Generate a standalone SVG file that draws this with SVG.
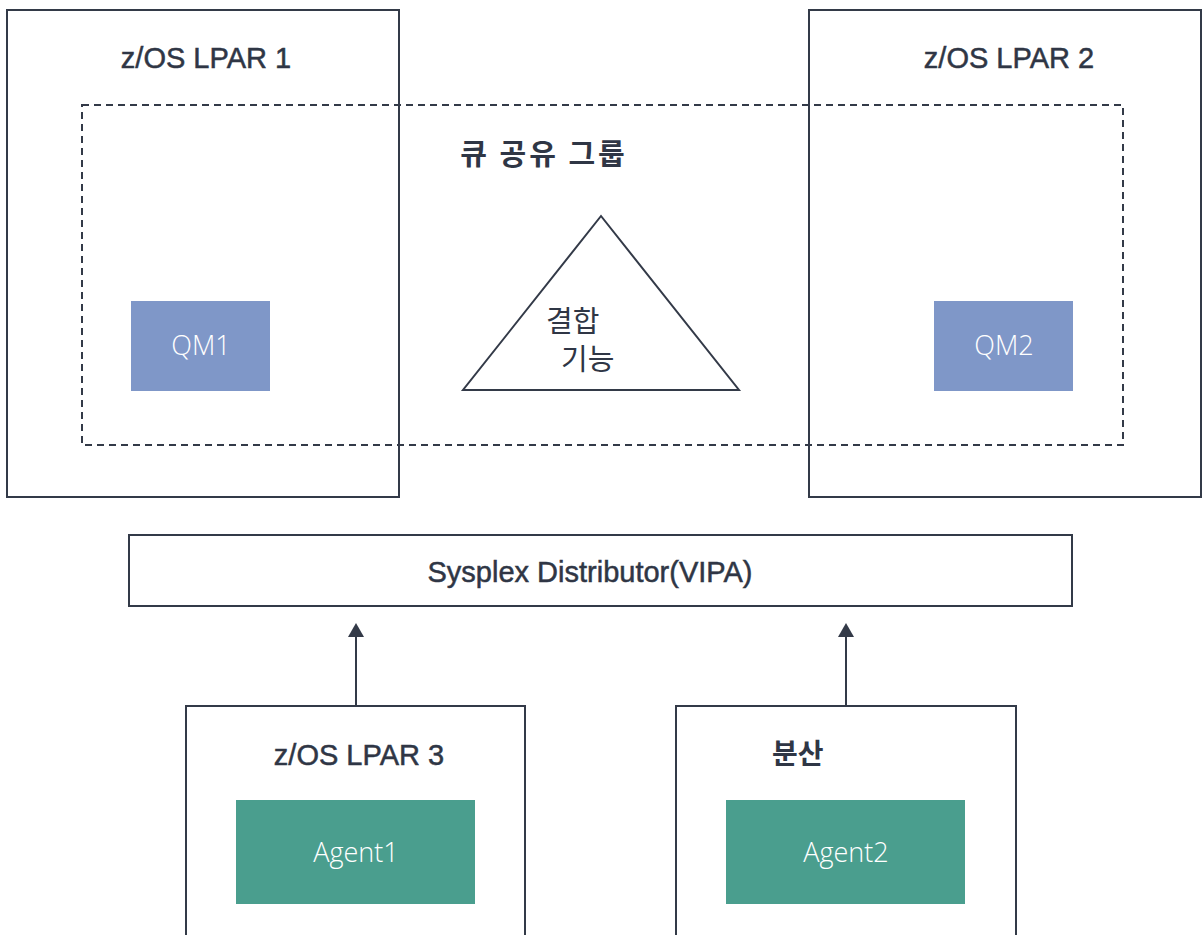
<svg xmlns="http://www.w3.org/2000/svg" width="1202" height="935" viewBox="0 0 1202 935">
<defs>
<style>
.box{fill:none;stroke:#333a48;stroke-width:2}
.dash{fill:none;stroke:#333a48;stroke-width:2;stroke-dasharray:7 5}
.lbl{font-family:"Liberation Sans","Noto Sans CJK KR",sans-serif;font-size:29px;fill:#2f3645;stroke:#2f3645;stroke-width:0.5;text-anchor:middle}
.kr{font-family:"Noto Sans CJK KR","Liberation Sans",sans-serif;fill:#2f3645}
.qm{fill:#7f97c8}
.ag{fill:#4a9e8e}
.wt{font-family:"Open Sans","Noto Sans",sans-serif;font-weight:300;font-size:27px;fill:#ffffff;text-anchor:middle}
.conn{stroke:#333a48;stroke-width:2;fill:none}
</style>
<marker id="arr" markerWidth="14" markerHeight="16" refX="0" refY="8" orient="auto" markerUnits="userSpaceOnUse" viewBox="0 0 14 16">
<path d="M0,0 L14,8 L0,16 Z" fill="#333a48"/>
</marker>
</defs>
<rect width="1202" height="935" fill="#ffffff"/>
<g id="lpar1">
<rect class="box" x="7" y="10" width="392" height="487"/>
<text class="lbl" x="206" y="68">z/OS LPAR 1</text>
</g>
<g id="lpar2">
<rect class="box" x="809" y="10" width="392" height="487"/>
<text class="lbl" x="1009" y="68">z/OS LPAR 2</text>
</g>
<g id="qsg">
<rect class="dash" x="82" y="105" width="1041" height="340"/>
<text class="kr" x="544" y="165" font-size="29" font-weight="bold" letter-spacing="3" text-anchor="middle">큐 공유 그룹</text>
</g>
<g id="cf">
<polygon points="601,216 463,390 739,390" fill="none" stroke="#333a48" stroke-width="2"/>
<text class="kr" x="546" y="332" font-size="29">결합</text>
<text class="kr" x="561" y="370" font-size="29">기능</text>
</g>
<g id="qm1">
<rect class="qm" x="131" y="301" width="139" height="90"/>
<text class="wt" x="201" y="355">QM1</text>
</g>
<g id="qm2">
<rect class="qm" x="934" y="301" width="139" height="90"/>
<text class="wt" x="1004" y="355">QM2</text>
</g>
<g id="sysplex">
<rect class="box" x="129" y="535" width="943" height="71"/>
<text class="lbl" x="590" y="582">Sysplex Distributor(VIPA)</text>
</g>
<g id="lpar3">
<rect class="box" x="186" y="706" width="339" height="240"/>
<text class="lbl" x="359" y="765">z/OS LPAR 3</text>
</g>
<g id="agent1">
<rect class="ag" x="236" y="800" width="239" height="104"/>
<text class="wt" x="356" y="862">Agent1</text>
</g>
<g id="dist">
<rect class="box" x="676" y="706" width="340" height="240"/>
<text class="kr" x="772" y="764" font-size="28" font-weight="bold">분산</text>
</g>
<g id="agent2">
<rect class="ag" x="726" y="800" width="239" height="104"/>
<text class="wt" x="846" y="862">Agent2</text>
</g>
<g id="connectors">
<line class="conn" x1="356" y1="706" x2="356" y2="637" marker-end="url(#arr)"/>
<line class="conn" x1="846" y1="706" x2="846" y2="637" marker-end="url(#arr)"/>
</g>
</svg>
